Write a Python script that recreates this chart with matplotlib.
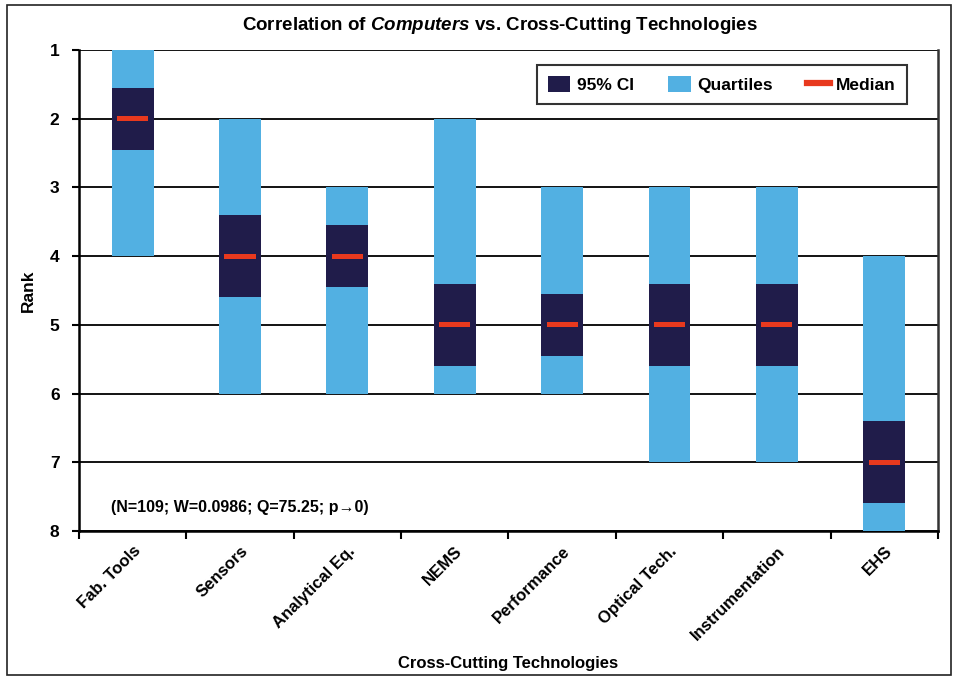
import matplotlib
matplotlib.use("Agg")
import matplotlib.pyplot as plt
from matplotlib.patches import Patch, Rectangle
from matplotlib.lines import Line2D

# values (rank, 1 = best)
categories = ["Fab. Tools", "Sensors", "Analytical Eq.", "NEMS", "Performance",
              "Optical Tech.", "Instrumentation", "EHS"]
q_low = [1, 2, 3, 2, 3, 3, 3, 4]
q_high = [4, 6, 6, 6, 6, 7, 7, 8]
ci_low = [1.55, 3.4, 3.55, 4.4, 4.55, 4.4, 4.4, 6.4]
ci_high = [2.45, 4.6, 4.45, 5.6, 5.45, 5.6, 5.6, 7.6]
medians = [2, 4, 4, 5, 5, 5, 5, 7]
rank_ticks = [1, 2, 3, 4, 5, 6, 7, 8]
stats_note = "(N=109; W=0.0986; Q=75.25; p\u21920)"

light_blue = "#52b0e2"
navy = "#201c4a"
red = "#e8391e"

plt.rcParams['font.family'] = ['Liberation Sans', 'DejaVu Sans']
plt.rcParams['font.weight'] = 'bold'
plt.rcParams['mathtext.fontset'] = 'custom'
plt.rcParams['mathtext.bfit'] = 'Liberation Sans:italic:bold'
plt.rcParams['mathtext.it'] = 'Liberation Sans:italic:bold'

fig = plt.figure(figsize=(9.56, 6.77), dpi=100)
ax = fig.add_axes([0.0826, 0.2157, 0.8985, 0.7103])

# outer frame round the whole picture
fig.patches.append(Rectangle((0.0073, 0.003), 0.987, 0.989, transform=fig.transFigure,
                             fill=False, edgecolor="#222222", linewidth=1.2))

x = list(range(len(categories)))
q_h = [h - l for l, h in zip(q_low, q_high)]
ci_h = [h - l for l, h in zip(ci_low, ci_high)]
med_b = [m - 0.035 for m in medians]

ax.bar(x, q_h, bottom=q_low, width=0.39, color=light_blue, zorder=3)
ax.bar(x, ci_h, bottom=ci_low, width=0.39, color=navy, zorder=4)
ax.bar(x, [0.07] * len(medians), bottom=med_b, width=0.29, color=red, zorder=5)

ax.set_xlim(-0.5, len(categories) - 0.5)
ax.set_ylim(8, 1)
ax.set_yticks(rank_ticks)
ax.set_yticklabels([str(r) for r in rank_ticks], fontsize=12.5, fontweight='bold')
for r in rank_ticks:
    ax.axhline(r, color="black", linewidth=1.3, zorder=1)

# ticks between categories, labels at the centres
ax.set_xticks([i - 0.5 for i in range(len(categories) + 1)])
ax.set_xticklabels([])
ax.set_xticks(x, minor=True)
ax.set_xticklabels(categories, minor=True, rotation=45, ha='right', va='top',
                   rotation_mode='anchor', fontsize=12, fontweight='bold')
ax.tick_params(axis='x', which='minor', length=0, pad=9)
ax.tick_params(axis='x', which='major', length=6, width=1.5, direction='out')
ax.tick_params(axis='y', length=5, width=1.5, direction='out', pad=9)

for side in ['left', 'bottom', 'right']:
    ax.spines[side].set_linewidth(1.8)
ax.spines['top'].set_visible(False)
ax.spines['right'].set_color("#333333")

ax.set_ylabel("Rank", fontsize=12.5, fontweight='bold', labelpad=10)
ax.set_xlabel("Cross-Cutting Technologies", fontsize=12, fontweight='bold')
ax.xaxis.set_label_coords(0.5, -0.26)

fig.text(0.523, 0.962, r"Correlation of $\mathbfit{Computers}$ vs. Cross-Cutting Technologies",
         ha='center', va='center', fontsize=13.5, fontweight='bold')

ax.text(-0.2, 7.66, stats_note, fontsize=11.5, fontweight='bold', va='center', ha='left')

handles = [Patch(facecolor=navy, label="95% CI"),
           Patch(facecolor=light_blue, label="Quartiles"),
           Line2D([0], [0], color=red, linewidth=4.5, label="Median")]
leg = ax.legend(handles=handles, ncol=3, loc='upper right', bbox_to_anchor=(0.974, 0.987),
                frameon=True, fancybox=False, fontsize=12.5, columnspacing=2.0,
                handlelength=1.3, handleheight=1.0, handletextpad=0.35, borderpad=0.65)
leg.get_frame().set_edgecolor("black")
leg.get_frame().set_linewidth(1.5)
for t in leg.get_texts():
    t.set_fontweight('bold')

fig.savefig("out.png", dpi=100)
